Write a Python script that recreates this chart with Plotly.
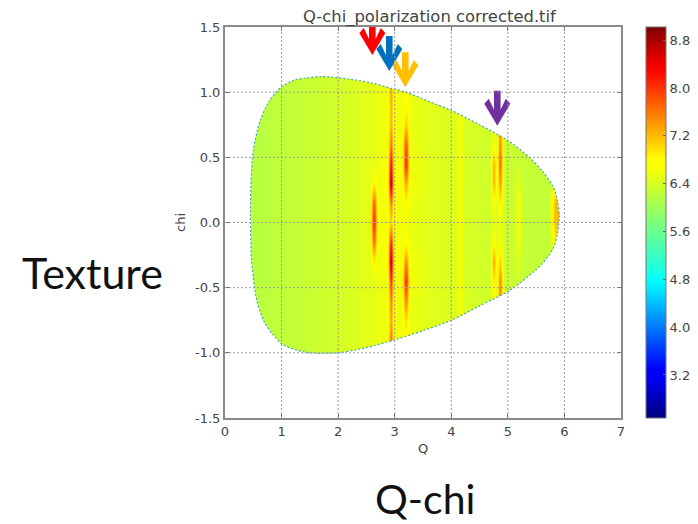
import plotly.graph_objects as go

# ---- data ----
q_values = [0.3, 0.7, 1.5, 2.2, 2.55, 2.62, 2.69, 2.87, 2.93, 2.99, 3.13, 3.2, 3.27, 3.7,
            4.06, 4.14, 4.22, 4.68, 4.75, 4.81, 4.85, 4.92, 5.1, 5.18, 5.27, 5.72, 5.82, 6.0]
chi_values = [-1.1, -0.9, -0.75, -0.6, -0.45, -0.3, -0.15, 0, 0.15, 0.3, 0.45, 0.6, 0.75, 0.9, 1.15]

z_m110 = [6.15,6.2,6.3,6.42,6.5,6.5,6.55,6.6,7.7,6.6,6.6,6.7,6.55,6.47,6.42,6.6,6.42,6.35,6.38,6.38,7.5,6.35,6.3,6.3,6.28,6.25,6.25,6.25]
z_m090 = [6.15,6.2,6.3,6.42,6.5,6.5,6.55,6.6,7.7,6.6,6.6,6.8,6.55,6.47,6.42,6.6,6.42,6.35,6.38,6.38,7.5,6.35,6.3,6.3,6.28,6.25,6.25,6.25]
z_m075 = [6.15,6.2,6.3,6.42,6.5,6.5,6.55,6.6,7.4,6.6,6.6,7.0,6.55,6.47,6.42,6.7,6.42,6.35,6.38,6.38,7.5,6.35,6.3,6.3,6.28,6.25,6.25,6.25]
z_m060 = [6.15,6.2,6.3,6.42,6.5,6.5,6.55,6.6,7.6,6.65,6.6,7.6,6.55,6.47,6.42,6.7,6.42,6.35,6.6,6.38,7.6,6.35,6.3,6.3,6.28,6.25,6.25,6.25]
z_m045 = [6.15,6.2,6.3,6.42,6.5,6.5,6.55,6.6,8.1,6.7,6.6,8.2,6.6,6.47,6.42,6.7,6.42,6.35,7.0,6.42,7.6,6.35,6.3,6.35,6.28,6.25,6.25,6.25]
z_m030 = [6.15,6.2,6.3,6.42,6.5,6.9,6.55,6.7,8.9,6.7,6.6,7.5,6.6,6.47,6.42,6.7,6.42,6.35,7.4,6.42,7.1,6.35,6.3,6.45,6.28,6.25,6.25,6.25]
z_m015 = [6.15,6.2,6.3,6.42,6.5,7.7,6.6,6.7,8.2,6.65,6.6,6.8,6.55,6.47,6.42,6.7,6.42,6.35,6.8,6.42,6.7,6.35,6.3,6.6,6.28,6.25,6.8,6.8]
z_p000 = [6.15,6.2,6.3,6.42,6.5,8.2,6.6,6.6,7.1,6.6,6.6,6.6,6.55,6.47,6.42,6.7,6.42,6.35,6.5,6.38,6.6,6.35,6.3,6.7,6.28,6.25,7.2,7.2]
z_p015 = [6.15,6.2,6.3,6.42,6.5,7.8,6.6,6.6,7.6,6.65,6.6,6.8,6.55,6.47,6.42,6.7,6.42,6.35,6.7,6.42,6.9,6.35,6.3,6.7,6.28,6.25,7.2,7.2]
z_p030 = [6.15,6.2,6.3,6.42,6.5,6.9,6.55,6.7,8.9,6.7,6.6,7.4,6.6,6.47,6.42,6.7,6.42,6.35,7.3,6.42,7.5,6.35,6.3,6.5,6.28,6.25,6.6,6.6]
z_p045 = [6.15,6.2,6.3,6.42,6.5,6.5,6.55,6.7,8.4,6.7,6.6,8.2,6.6,6.47,6.42,6.7,6.42,6.35,7.3,6.42,7.8,6.35,6.3,6.35,6.28,6.25,6.25,6.25]
z_p060 = [6.15,6.2,6.3,6.42,6.5,6.5,6.55,6.6,7.7,6.65,6.6,7.9,6.55,6.47,6.42,6.7,6.42,6.35,6.7,6.38,7.6,6.35,6.3,6.3,6.28,6.25,6.25,6.25]
z_p075 = [6.15,6.2,6.3,6.42,6.5,6.5,6.55,6.6,7.3,6.6,6.6,7.1,6.55,6.47,6.42,6.7,6.42,6.35,6.42,6.38,7.4,6.35,6.3,6.3,6.28,6.25,6.25,6.25]
z_p090 = [6.15,6.2,6.3,6.42,6.5,6.5,6.55,6.6,7.3,6.6,6.6,6.8,6.55,6.47,6.42,6.6,6.42,6.35,6.38,6.38,7.4,6.35,6.3,6.3,6.28,6.25,6.25,6.25]
z_p115 = [6.15,6.2,6.3,6.42,6.5,6.5,6.55,6.6,7.5,6.6,6.6,6.8,6.55,6.47,6.42,6.6,6.42,6.35,6.38,6.38,7.4,6.35,6.3,6.3,6.28,6.25,6.25,6.25]

top_q = [0.45, 0.46, 0.5, 0.62, 0.78, 0.97, 1.2, 1.45, 1.7, 2.2, 2.6, 2.93, 3.2, 3.6, 4.0, 4.5, 5.0, 5.39, 5.6, 5.8, 5.88, 5.91]
top_chi = [0.05, 0.3, 0.55, 0.78, 0.93, 1.03, 1.09, 1.11, 1.12, 1.10, 1.07, 1.03, 1.0, 0.93, 0.86, 0.75, 0.63, 0.495, 0.40, 0.275, 0.16, 0.05]
bottom_q = [5.91, 5.88, 5.8, 5.6, 5.45, 5.04, 4.5, 4.0, 3.5, 3.0, 2.5, 2.0, 1.5, 1.2, 1.0, 0.85, 0.7, 0.56, 0.47, 0.45]
bottom_chi = [0.05, -0.08, -0.2, -0.32, -0.38, -0.52, -0.64, -0.75, -0.83, -0.90, -0.96, -1.0, -1.0, -0.97, -0.93, -0.86, -0.77, -0.595, -0.29, 0.05]

x_ticks = [0, 1, 2, 3, 4, 5, 6, 7]
y_ticks = [-1.5, -1.0, -0.5, 0.0, 0.5, 1.0, 1.5]
x_range = [0, 7]
y_range = [-1.5, 1.5]
z_range = [2.48, 9.02]

# arrows drawn over the chart: tip position and colour
arrow_q = [3.187, 2.904, 2.604, 4.813]
arrow_chi = [1.038, 1.163, 1.285, 0.743]
arrow_colors = ["#ffc000", "#0070c0", "#ff0000", "#7030a0"]

# ---- styles ----
OFF = 8  # the page's default body margin
W, H = 698 - OFF, 524 - OFF
L, R, T, B = 225 - OFF, 621 - OFF, 27 - OFF, 418 - OFF
px_q = (R - L) / (x_range[1] - x_range[0])
px_chi = (B - T) / (y_range[1] - y_range[0])
text_col = "#444444"
axis_col = "#8a8a8a"
jet = [[0, "#00007f"], [0.11, "#0000ff"], [0.125, "#0000ff"], [0.35, "#00ffff"], [0.375, "#19ffe5"],
       [0.5, "#7cff7a"], [0.64, "#fbff00"], [0.66, "#ffff00"], [0.89, "#ff0000"], [0.91, "#ed0000"], [1, "#7f0000"]]
font = "DejaVu Sans"

fig = go.Figure()
z_rows = [z_m110, z_m090, z_m075, z_m060, z_m045, z_m030, z_m015, z_p000,
          z_p015, z_p030, z_p045, z_p060, z_p075, z_p090, z_p115]
fig.add_trace(go.Heatmap(
    x=q_values, y=chi_values, z=z_rows, zsmooth="best", colorscale=jet,
    zmin=z_range[0], zmax=z_range[1], hoverinfo="skip",
    colorbar=dict(thickness=20, thicknessmode="pixels", len=1, lenmode="fraction",
                  x=(646 - OFF - L) / (R - L), xanchor="left", xpad=0, y=0.5, yanchor="middle", ypad=0,
                  tick0=3.2, dtick=0.8, tickformat=".1f", ticks="inside", ticklen=3,
                  tickcolor="#666666", tickfont=dict(family=font, size=13, color=text_col),
                  outlinecolor="#777777", outlinewidth=1, borderwidth=0),
))

# white masks outside the measured region; each one runs a little past the
# other's end of the outline, and stands clear of it there, so that the spline
# leaves no notch where the two meet
clear = 0.08
mask_top_q = [bottom_q[-2] - clear] + top_q + [bottom_q[1] + clear]
mask_top_chi = [bottom_chi[-2]] + top_chi + [bottom_chi[1]]
mask_bot_q = [top_q[-2] + clear] + bottom_q + [top_q[1] - clear]
mask_bot_chi = [top_chi[-2]] + bottom_chi + [top_chi[1]]
fig.add_trace(go.Scatter(
    x=[x_range[0]] + mask_top_q + [x_range[1], x_range[1], x_range[0]],
    y=[mask_top_chi[0]] + mask_top_chi + [mask_top_chi[-1], y_range[1], y_range[1]],
    mode="lines", fill="toself", fillcolor="white", line=dict(width=0, shape="spline", smoothing=0.8),
    hoverinfo="skip", showlegend=False))
fig.add_trace(go.Scatter(
    x=[x_range[1]] + mask_bot_q + [x_range[0], x_range[0], x_range[1]],
    y=[mask_bot_chi[0]] + mask_bot_chi + [mask_bot_chi[-1], y_range[0], y_range[0]],
    mode="lines", fill="toself", fillcolor="white", line=dict(width=0, shape="spline", smoothing=0.8),
    hoverinfo="skip", showlegend=False))
fig.add_trace(go.Scatter(
    x=top_q + bottom_q[1:], y=top_chi + bottom_chi[1:], mode="lines",
    line=dict(color="#4aa6b8", width=1.2, dash="2px,2px", shape="spline", smoothing=0.8),
    hoverinfo="skip", showlegend=False))

# chevron arrows: outline offsets in pixels from the tip
shape_dx = [0, 13, 8.5, 3.3, 3.3, -3.3, -3.3, -8.5, -13, 0]
shape_dy = [0, 22, 27, 16, 35, 35, 16, 27, 22, 0]
for aq, ac, col in zip(arrow_q, arrow_chi, arrow_colors):
    fig.add_trace(go.Scatter(
        x=[aq + d / px_q for d in shape_dx], y=[ac + d / px_chi for d in shape_dy],
        mode="lines", fill="toself", fillcolor=col, line=dict(width=0, color=col),
        hoverinfo="skip", showlegend=False, cliponaxis=False))

grid = dict(color="#9a9a9a", width=1, dash="2px,2px")
for t in x_ticks[1:-1]:
    fig.add_shape(type="line", xref="x", yref="y", x0=t, x1=t, y0=y_range[0], y1=y_range[1], line=grid, layer="above")
for t in y_ticks[1:-1]:
    fig.add_shape(type="line", xref="x", yref="y", x0=x_range[0], x1=x_range[1], y0=t, y1=t, line=grid, layer="above")

axis = dict(showgrid=False, zeroline=False, showline=True, linecolor=axis_col, linewidth=2, mirror="ticks",
            ticks="inside", ticklen=4, tickcolor="#666666",
            tickfont=dict(family=font, size=13, color=text_col))
fig.update_xaxes(range=x_range, tickvals=x_ticks, ticktext=[str(t) for t in x_ticks],
                 title=dict(text="Q", font=dict(family=font, size=13, color=text_col), standoff=6), **axis)
fig.update_yaxes(range=y_range, tickvals=y_ticks, ticktext=[f"{t:.1f}" for t in y_ticks],
                 title=dict(text="chi", font=dict(family=font, size=13, color=text_col), standoff=6), **axis)

def note(text, px, py, size, family, color):
    fig.add_annotation(text=text, xref="paper", yref="paper",
                       x=(px - OFF - L) / (R - L), y=(B - (py - OFF)) / (B - T),
                       xanchor="center", yanchor="middle", showarrow=False,
                       font=dict(family=family, size=size, color=color))

note("Q-chi_polarization corrected.tif", 430, 16.6, 16.4, font, text_col)
note("Texture", 92, 272, 43, "Lato", "#111111")
note("Q-chi", 425, 499, 41, "Lato", "#111111")

fig.update_layout(width=W, height=H, autosize=False, paper_bgcolor="white", plot_bgcolor="white",
                  margin=dict(l=L, r=W - R, t=T, b=H - B, autoexpand=False), showlegend=False)
fig.write_html("out.html")
